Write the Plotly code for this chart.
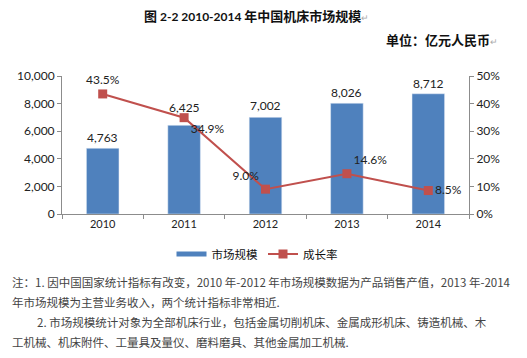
import plotly.graph_objects as go

years = ["2010", "2011", "2012", "2013", "2014"]
market_size = [4763, 6425, 7002, 8026, 8712]
growth_rate = [43.5, 34.9, 9.0, 14.6, 8.5]
size_labels = ["4,763", "6,425", "7,002", "8,026", "8,712"]
rate_labels = ["43.5%", "34.9%", "9.0%", "14.6%", "8.5%"]
rate_label_pos = ["top center", "bottom right", "top left", "top right", "middle right"]
size_label_shift = [11, 18, 12, 11, 10]

W, H = 527, 358
L, R, T, B = 62, 469, 76, 214

def px(x):
    return (x - L) / (R - L)

def py(y):
    return (B - y) / (B - T)

BLUE = "#4F81BD"
RED = "#C0504D"
AXIS = "#8C8C8C"
LATIN = "Lato, 'Noto Sans CJK SC', sans-serif"
CJK = "'Noto Sans CJK SC', sans-serif"

fig = go.Figure()
fig.add_trace(go.Bar(
    x=years, y=market_size, marker_color=BLUE, showlegend=False, name="市场规模",
))
fig.add_trace(go.Scatter(
    x=[None], y=[None], mode="lines", line=dict(color=BLUE, width=5),
    name="市场规模", showlegend=True,
))
fig.add_trace(go.Scatter(
    x=years, y=growth_rate, yaxis="y2", mode="lines+markers+text",
    line=dict(color=RED, width=2), marker=dict(symbol="square", size=9, color=RED),
    text=rate_labels, textposition=rate_label_pos, cliponaxis=False,
    textfont=dict(family=LATIN, size=12, color="#222"),
    name="成长率",
))

annotations = []
for i, (v, lab, sh) in enumerate(zip(market_size, size_labels, size_label_shift)):
    annotations.append(dict(text=lab, x=i, y=v, xref="x", yref="y", yshift=sh,
                            xanchor="center", yanchor="middle", showarrow=False,
                            font=dict(family=LATIN, size=12, color="#222")))

title_html = ("<b>图 <span style='font-family:Lato;font-size:12px'>2-2 2010-2014</span> "
              "年中国机床市场规模</b><span style='color:#aaa;font-size:9px'>↵</span>")
extra = [
    dict(text=title_html, x=px(256), y=py(15), xanchor="center", yanchor="middle",
         font=dict(family=CJK, size=13, color="#111")),
    dict(text="<b>单位：亿元人民币</b><span style='color:#aaa;font-size:9px'>↵</span>",
         x=px(500), y=py(40), xanchor="right", yanchor="middle",
         font=dict(family=CJK, size=13, color="#111")),
]
notes = [
    (10, 282, "注：1. 因中国国家统计指标有改变，2010 年-2012 年市场规模数据为产品销售产值，2013 年-2014"),
    (10, 302, "年市场规模为主营业务收入，两个统计指标非常相近."),
    (35, 322, "2. 市场规模统计对象为全部机床行业，包括金属切削机床、金属成形机床、铸造机械、木"),
    (10, 342, "工机械、机床附件、工量具及量仪、磨料磨具、其他金属加工机械."),
]
for x0, y0, t in notes:
    extra.append(dict(text=t, x=px(x0), y=py(y0), xanchor="left", yanchor="middle",
                      font=dict(family=CJK, size=11.5, color="#444")))
for a in extra:
    a.update(xref="paper", yref="paper", showarrow=False)
annotations += extra

fig.update_layout(
    width=W, height=H,
    margin=dict(l=L, r=W - R, t=T, b=H - B, pad=0, autoexpand=False),
    paper_bgcolor="white", plot_bgcolor="white",
    bargap=0.6,
    xaxis=dict(type="category", range=[-0.5, 4.5], showline=True, linecolor=AXIS, linewidth=1,
               ticks="outside", ticklen=4, tickcolor=AXIS, tickson="boundaries",
               showgrid=False, tickfont=dict(family=LATIN, size=11, color="#222")),
    yaxis=dict(range=[0, 10000], tickvals=[0, 2000, 4000, 6000, 8000, 10000],
               ticktext=["0", "2,000", "4,000", "6,000", "8,000", "10,000"],
               showline=True, linecolor=AXIS, ticks="outside", ticklen=4, tickcolor=AXIS,
               showgrid=False, zeroline=False, tickfont=dict(family=LATIN, size=12, color="#222")),
    yaxis2=dict(range=[0, 50], tickvals=[0, 10, 20, 30, 40, 50],
                ticktext=["0%", "10%", "20%", "30%", "40%", "50%"],
                overlaying="y", side="right", showline=True, linecolor=AXIS,
                ticks="outside", ticklen=4, tickcolor=AXIS, showgrid=False, zeroline=False,
                tickfont=dict(family=LATIN, size=12, color="#222")),
    legend=dict(orientation="h", x=px(257), y=py(254), xanchor="center", yanchor="middle",
                font=dict(family=CJK, size=11.5, color="#111"), itemwidth=30,
                tracegroupgap=0, bgcolor="rgba(0,0,0,0)"),
    annotations=annotations,
)

fig.write_html("out.html", config={"displayModeBar": False},
               post_script="document.body.style.margin='0';document.body.style.overflow='hidden';")
